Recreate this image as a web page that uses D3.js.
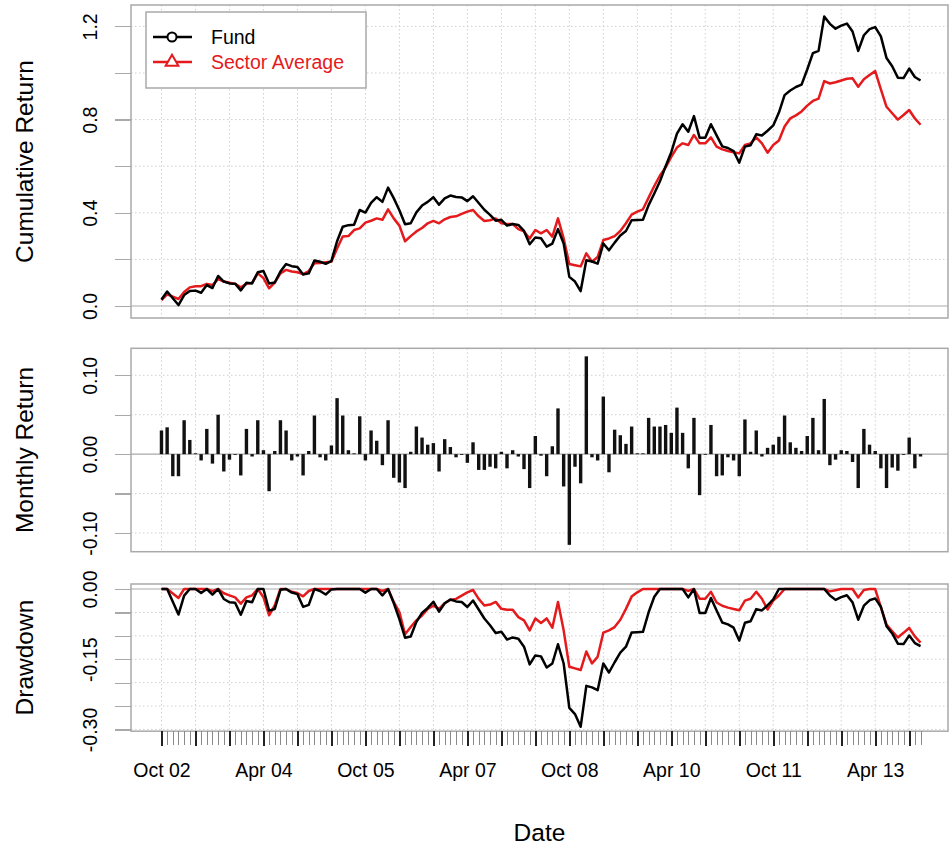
<!DOCTYPE html>
<html lang="en">
<head>
<meta charset="UTF-8">
<title>Performance Summary</title>
<script src="https://d3js.org/d3.v7.min.js"></script>
<style>
    body { margin: 0; background: #fff; }
    svg { font-family: "Liberation Sans", Arial, Helvetica, sans-serif; }
    .tick line { shape-rendering: crispEdges; }
</style>
</head>
<body>
<svg id="chart"></svg>
<script>
    // monthly data, Oct 2002 .. Dec 2013
    const startMonth = new Date(2002, 9, 1);

    const fundMonthly = [
        0.030, 0.034, -0.028, -0.028, 0.043, 0.018, 0.001, -0.008, 0.032, -0.012, 0.050, -0.022,
        -0.007, -0.001, -0.027, 0.032, -0.003, 0.043, 0.005, -0.047, 0.004, 0.043, 0.030, -0.008,
        -0.003, -0.027, 0.004, 0.049, -0.004, -0.008, 0.011, 0.071, 0.049, 0.005, 0.001, 0.048,
        -0.008, 0.030, 0.017, -0.014, 0.043, -0.030, -0.036, -0.043, 0.003, 0.035, 0.021, 0.012,
        0.014, -0.022, 0.019, 0.009, -0.004, -0.001, -0.011, 0.015, -0.020, -0.020, -0.016, -0.018,
        0.003, -0.018, 0.005, -0.003, -0.019, -0.043, 0.023, -0.002, -0.028, 0.010, 0.058, -0.041,
        -0.115, -0.016, -0.037, 0.124, -0.004, -0.008, 0.073, -0.023, 0.031, 0.024, 0.013, 0.035,
        0.001, 0.001, 0.046, 0.035, 0.035, 0.037, 0.027, 0.059, 0.027, -0.018, 0.046, -0.052,
        -0.001, 0.037, -0.028, -0.027, -0.004, -0.008, -0.028, 0.044, 0.003, 0.030, -0.003, 0.008,
        0.012, 0.022, 0.049, 0.015, 0.008, 0.004, 0.023, 0.046, 0.005, 0.070, -0.014, -0.007,
        0.005, 0.004, -0.010, -0.043, 0.032, 0.012, 0.004, -0.018, -0.043, -0.017, -0.021, -0.001,
        0.021, -0.018, -0.003
    ];

    const fundCumulative = [
        0.028, 0.062, 0.033, 0.004, 0.047, 0.064, 0.066, 0.057, 0.090, 0.077, 0.129, 0.105,
        0.097, 0.096, 0.067, 0.100, 0.097, 0.145, 0.150, 0.097, 0.101, 0.148, 0.180, 0.171,
        0.167, 0.135, 0.140, 0.195, 0.190, 0.181, 0.194, 0.278, 0.340, 0.347, 0.349, 0.412,
        0.401, 0.443, 0.467, 0.447, 0.508, 0.463, 0.411, 0.351, 0.355, 0.402, 0.431, 0.447,
        0.467, 0.435, 0.462, 0.474, 0.468, 0.466, 0.450, 0.471, 0.442, 0.413, 0.391, 0.366,
        0.370, 0.345, 0.352, 0.348, 0.322, 0.265, 0.294, 0.291, 0.255, 0.268, 0.330, 0.268,
        0.125, 0.105, 0.064, 0.196, 0.191, 0.182, 0.268, 0.239, 0.272, 0.303, 0.322, 0.368,
        0.369, 0.370, 0.433, 0.483, 0.535, 0.600, 0.660, 0.740, 0.780, 0.748, 0.815, 0.722,
        0.722, 0.780, 0.732, 0.685, 0.678, 0.665, 0.615, 0.684, 0.690, 0.737, 0.732, 0.752,
        0.775, 0.830, 0.905, 0.925, 0.940, 0.950, 1.015, 1.085, 1.095, 1.242, 1.211, 1.190,
        1.203, 1.212, 1.178, 1.095, 1.162, 1.188, 1.197, 1.157, 1.064, 1.029, 0.980, 0.978,
        1.019, 0.983, 0.968
    ];

    const sectorCumulative = [
        0.025, 0.050, 0.040, 0.030, 0.060, 0.080, 0.085, 0.085, 0.095, 0.090, 0.115, 0.105,
        0.100, 0.095, 0.080, 0.095, 0.100, 0.140, 0.120, 0.076, 0.100, 0.140, 0.155, 0.148,
        0.145, 0.137, 0.150, 0.183, 0.185, 0.188, 0.190, 0.247, 0.298, 0.300, 0.326, 0.333,
        0.358, 0.366, 0.376, 0.370, 0.415, 0.376, 0.345, 0.278, 0.300, 0.320, 0.335, 0.355,
        0.365, 0.355, 0.372, 0.382, 0.385, 0.395, 0.405, 0.412, 0.385, 0.365, 0.368, 0.376,
        0.355, 0.352, 0.352, 0.330, 0.320, 0.290, 0.326, 0.312, 0.326, 0.298, 0.376, 0.290,
        0.180, 0.175, 0.170, 0.226, 0.190, 0.210, 0.283, 0.290, 0.300, 0.322, 0.355, 0.392,
        0.405, 0.415, 0.465, 0.515, 0.560, 0.595, 0.640, 0.680, 0.698, 0.691, 0.734, 0.698,
        0.698, 0.724, 0.684, 0.672, 0.665, 0.660, 0.655, 0.691, 0.698, 0.724, 0.698, 0.658,
        0.691, 0.710, 0.770, 0.805, 0.818, 0.835, 0.860, 0.880, 0.890, 0.965, 0.955, 0.960,
        0.968, 0.975, 0.977, 0.941, 0.973, 0.991, 1.008, 0.930, 0.855, 0.827, 0.800, 0.820,
        0.841, 0.805, 0.778
    ];

    const seriesNames = ["Fund", "Sector Average"];
    const seriesColors = ["#000000", "#e41a1c"];

    const cumTicks = [0, 0.2, 0.4, 0.6, 0.8, 1.0, 1.2];
    const cumLabels = [0, 0.4, 0.8, 1.2];
    const retTicks = [-0.10, -0.05, 0, 0.05, 0.10];
    const retLabels = [-0.10, 0, 0.10];
    const ddTicks = [0, -0.05, -0.10, -0.15, -0.20, -0.25, -0.30];
    const ddLabels = [0, -0.15, -0.30];

    const width = 951, height = 857;
    const left = 131, right = 948;
    const tickFont = "19.5px", titleFont = "24.5px";
    const boxColor = "#a9a9a9", gridColor = "#cfcfcf";

    const svg = d3.select("#chart").attr("width", width).attr("height", height);

    const months = d3.range(fundMonthly.length).map(i => d3.timeMonth.offset(startMonth, i));
    const majorIdx = months.map((d, i) => i).filter(i => i % 6 === 0);
    const labelIdx = months.map((d, i) => i).filter(i => i % 18 === 0);

    const x = d3.scaleLinear().domain([-5.38, 138.85]).range([left, right]);

    // plain hyphen minus, like R prints it
    const fixed = n => d => (Math.abs(d) < 1e-12 ? 0 : d).toFixed(n);

    function drawdown(cum) {
        let peak = 1;
        return cum.map(c => {
            const w = 1 + c;
            peak = Math.max(peak, w);
            return w / peak - 1;
        });
    }

    // one framed panel with dotted grid and a left axis
    function panel(y, ticks, labels, fmt, title) {
        const [bottom, top] = y.range();
        const g = svg.append("g");

        const grid = g.append("g")
            .attr("stroke", gridColor)
            .attr("stroke-dasharray", "1.5,2.5");
        grid.selectAll(".h").data(ticks.filter(t => t !== 0)).enter()
            .append("line")
            .attr("x1", left).attr("x2", right)
            .attr("y1", d => y(d)).attr("y2", d => y(d));
        grid.selectAll(".v").data(majorIdx).enter()
            .append("line")
            .attr("x1", d => x(d)).attr("x2", d => x(d))
            .attr("y1", top).attr("y2", bottom);

        g.append("line")
            .attr("x1", left).attr("x2", right)
            .attr("y1", y(0)).attr("y2", y(0))
            .attr("stroke", boxColor).attr("stroke-width", 1.2);

        const axis = g.append("g")
            .attr("transform", `translate(${left},0)`)
            .call(d3.axisLeft(y).tickValues(ticks).tickSize(16)
                .tickFormat(d => labels.some(l => Math.abs(l - d) < 1e-9) ? fmt(d) : ""));
        axis.select(".domain").remove();
        axis.selectAll(".tick line").attr("stroke", boxColor).attr("stroke-width", 1.2);
        axis.selectAll(".tick text")
            .attr("x", null).attr("dy", null)
            .attr("text-anchor", "middle")
            .attr("transform", "translate(-34,0) rotate(-90)")
            .attr("fill", "#000")
            .style("font-size", tickFont);

        svg.append("text")
            .attr("transform", `translate(33,${(top + bottom) / 2}) rotate(-90)`)
            .attr("text-anchor", "middle")
            .style("font-size", titleFont)
            .text(title);

        return g;
    }

    function frame(y) {
        const [bottom, top] = y.range();
        svg.append("rect")
            .attr("x", left).attr("y", top)
            .attr("width", right - left).attr("height", bottom - top)
            .attr("fill", "none")
            .attr("stroke", boxColor).attr("stroke-width", 1.5);
    }

    // panel 1: cumulative return
    const yCum = d3.scaleLinear().domain([-0.0515, 1.2918]).range([318, 5]);
    const pCum = panel(yCum, cumTicks, cumLabels, fixed(1), "Cumulative Return");
    const cumLine = d3.line().x((d, i) => x(i)).y(d => yCum(d));
    [sectorCumulative, fundCumulative].forEach((s, k) => {
        pCum.append("path")
            .datum(s)
            .attr("d", cumLine)
            .attr("fill", "none")
            .attr("stroke", seriesColors[1 - k])
            .attr("stroke-width", 2.5)
            .attr("stroke-linejoin", "round");
    });
    frame(yCum);

    // legend
    const lg = svg.append("g");
    lg.append("rect")
        .attr("x", 146).attr("y", 12).attr("width", 220).attr("height", 76)
        .attr("fill", "#fff").attr("stroke", boxColor).attr("stroke-width", 1.5);
    seriesNames.forEach((name, k) => {
        const ly = 37 + k * 25;
        lg.append("line")
            .attr("x1", 153).attr("x2", 192).attr("y1", ly).attr("y2", ly)
            .attr("stroke", seriesColors[k]).attr("stroke-width", 2.5);
        if (k === 0) {
            lg.append("circle").attr("cx", 172).attr("cy", ly).attr("r", 4.5)
                .attr("fill", "#fff").attr("stroke", seriesColors[k]).attr("stroke-width", 2);
        } else {
            lg.append("path")
                .attr("d", d3.symbol(d3.symbolTriangle, 70)())
                .attr("transform", `translate(172,${ly})`)
                .attr("fill", "#fff").attr("stroke", seriesColors[k]).attr("stroke-width", 2);
        }
        lg.append("text")
            .attr("x", 211).attr("y", ly).attr("dy", "0.35em")
            .attr("fill", seriesColors[k])
            .style("font-size", tickFont)
            .text(name);
    });

    // panel 2: monthly return bars
    const yRet = d3.scaleLinear().domain([-0.1237, 0.1342]).range([551.7, 348.3]);
    const pRet = panel(yRet, retTicks, retLabels, fixed(2), "Monthly Return");
    pRet.selectAll(".bar").data(fundMonthly).enter()
        .append("rect")
        .attr("x", (d, i) => x(i) - 1.7)
        .attr("width", 3.4)
        .attr("y", d => yRet(Math.max(0, d)))
        .attr("height", d => Math.max(0.8, Math.abs(yRet(d) - yRet(0))))
        .attr("fill", "#111");
    frame(yRet);

    // panel 3: drawdown
    const yDD = d3.scaleLinear().domain([-0.3038, 0.0107]).range([731.2, 584]);
    const pDD = panel(yDD, ddTicks, ddLabels, fixed(2), "Drawdown");
    const ddLine = d3.line().x((d, i) => x(i)).y(d => yDD(d));
    [sectorCumulative, fundCumulative].forEach((s, k) => {
        pDD.append("path")
            .datum(drawdown(s))
            .attr("d", ddLine)
            .attr("fill", "none")
            .attr("stroke", seriesColors[1 - k])
            .attr("stroke-width", 2.5)
            .attr("stroke-linejoin", "round");
    });
    frame(yDD);

    // x axis: minor ticks every month, major every six months
    const minorAxis = svg.append("g")
        .attr("transform", "translate(0,731.2)")
        .call(d3.axisBottom(x).tickValues(months.map((d, i) => i)).tickSize(14).tickFormat(""));
    minorAxis.select(".domain").remove();
    minorAxis.selectAll(".tick line").attr("stroke", "#8a8a8a").attr("stroke-width", 1);

    const fmtMonth = d3.timeFormat("%b %y");
    const majorAxis = svg.append("g")
        .attr("transform", "translate(0,731.2)")
        .call(d3.axisBottom(x).tickValues(majorIdx).tickSize(15)
            .tickFormat(i => labelIdx.includes(i) ? fmtMonth(months[i]) : ""));
    majorAxis.select(".domain").remove();
    majorAxis.selectAll(".tick line").attr("stroke", "#222").attr("stroke-width", 2);
    majorAxis.selectAll(".tick text")
        .attr("y", 46).attr("dy", null)
        .attr("fill", "#000")
        .style("font-size", tickFont);

    svg.append("text")
        .attr("x", (left + right) / 2).attr("y", 841)
        .attr("text-anchor", "middle")
        .style("font-size", titleFont)
        .text("Date");
</script>
</body>
</html>
